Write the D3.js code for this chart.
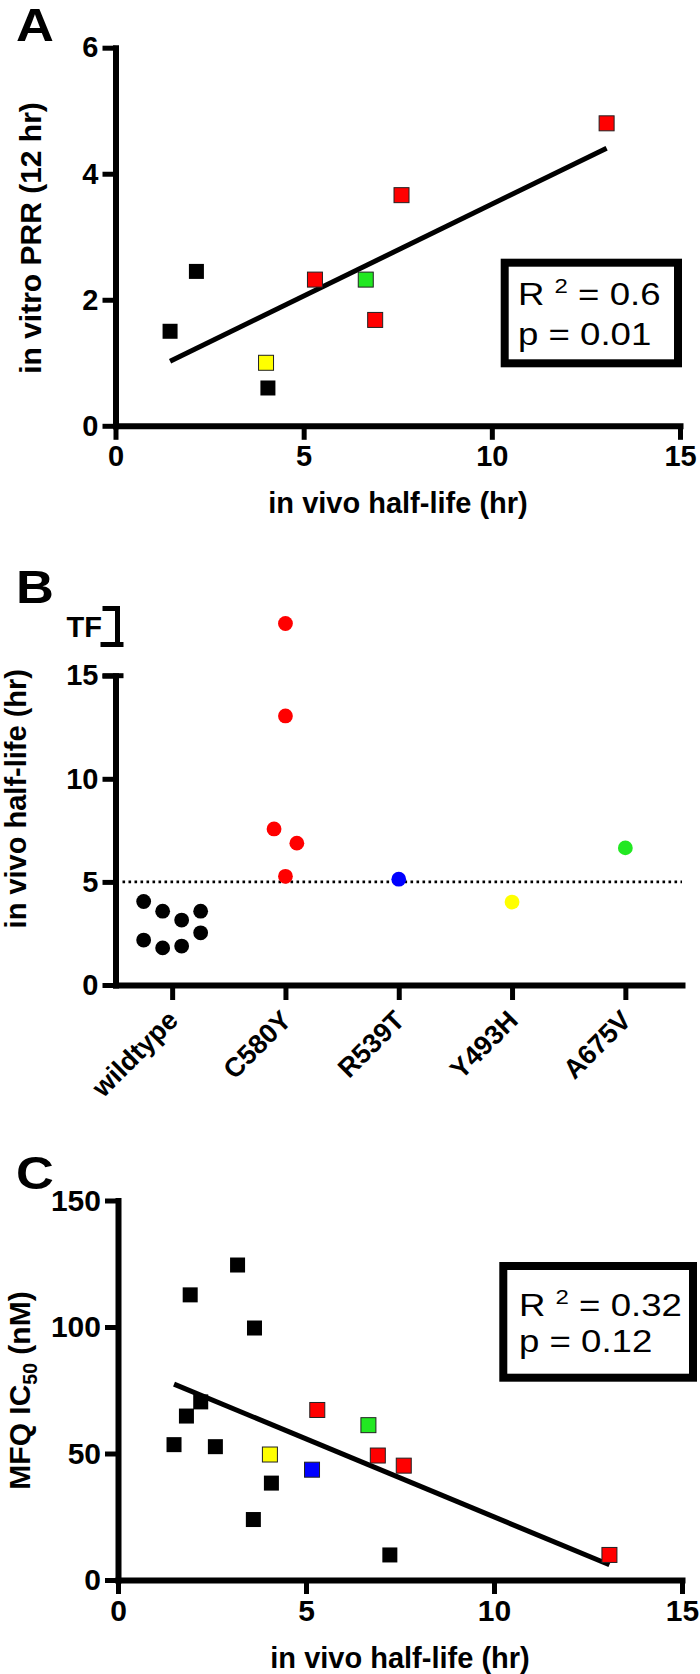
<!DOCTYPE html>
<html><head><meta charset="utf-8">
<script src="https://cdn.jsdelivr.net/npm/d3@7"></script>
<style>
html,body{margin:0;padding:0;background:#fff;}
svg{display:block;font-family:"Liberation Sans",Arial,Helvetica,sans-serif;}
</style></head><body>
<svg id="chart" width="700" height="1674"></svg>
<script>
// ---------- DATA ----------
// Panel A
const aHalfLife = [1.45, 2.15, 4.0, 4.05, 5.3, 6.65, 6.9, 7.6, 13.05];
const aPRR      = [1.5, 2.45, 1.0, 0.6, 2.32, 2.32, 1.68, 3.66, 4.8];
const aColor    = ["black","black","yellow","black","red","green","red","red","red"];
const aTicksX = [0, 5, 10, 15];
const aTicksY = [0, 2, 4, 6];
const aStats  = ["0.6", "0.01"];

// Panel B
const bCategories = ["wildtype","C580Y","R539T","Y493H","A675V"];
const bGroup  = ["wildtype","wildtype","wildtype","wildtype","wildtype","wildtype","wildtype","wildtype",
                 "C580Y","C580Y","C580Y","C580Y","C580Y","R539T","Y493H","A675V"];
const bValue  = [4.05, 3.58, 3.15, 3.58, 2.18, 1.80, 1.89, 2.53,
                 "TF", 13.05, 7.57, 6.88, 5.27, 5.13, 4.02, 6.65];
const bJitter = [-1.5, -0.5, 0.5, 1.5, -1.5, -0.5, 0.5, 1.5,
                 0, 0, -0.6, 0.6, 0, 0, 0, 0];
const bColor  = ["black","black","black","black","black","black","black","black",
                 "red","red","red","red","red","blue","yellow","green"];
const bTicksY = [0, 5, 10, 15];
const bThreshold = 5;

// Panel C
const cHalfLife = [1.49, 1.82, 1.92, 2.20, 2.59, 3.18, 3.63, 3.60, 4.08, 7.23,
                   4.04, 5.16, 5.30, 6.66, 6.91, 7.60, 13.07];
const cIC50     = [53.5, 64.8, 112.7, 70.4, 52.7, 124.5, 99.6, 23.9, 38.3, 9.9,
                   49.6, 43.6, 67.2, 61.2, 49.2, 45.2, 9.9];
const cColor    = ["black","black","black","black","black","black","black","black","black","black",
                   "yellow","blue","red","green","red","red","red"];
const cTicksX = [0, 5, 10, 15];
const cTicksY = [0, 50, 100, 150];
const cStats  = ["0.32", "0.12"];

const palette = {black:"#000000", red:"#ff0000", green:"#22e822", yellow:"#ffff00", blue:"#0000ff"};

// ---------- DRAW ----------
const svg = d3.select("#chart");
svg.append("rect").attr("width",700).attr("height",1674).attr("fill","#fff");

function styleAxis(g, fs){
  g.select(".domain").attr("stroke","#000").attr("stroke-width",6).attr("stroke-linecap","square");
  g.selectAll(".tick line").attr("stroke","#000").attr("stroke-width",5);
  g.selectAll(".tick text").attr("fill","#000").attr("font-size",fs).attr("font-weight","bold")
    .attr("font-family",'"Liberation Sans",Arial,sans-serif');
}

function panelLetter(txt, x, y){
  svg.append("text").attr("transform",`translate(${x},${y}) scale(1.14,1)`)
    .attr("font-size",46).attr("font-weight","bold").text(txt);
}

function legend(box, tx, b1, b2, stats){
  svg.append("rect").attr("x",box[0]).attr("y",box[1]).attr("width",box[2]).attr("height",box[3])
    .attr("fill","#fff").attr("stroke","#000").attr("stroke-width",8);
  const t = svg.append("g").attr("transform",`translate(${tx},0) scale(1.2,1)`)
    .attr("font-size",30.5);
  const t1 = t.append("text").attr("x",0).attr("y",b1).style("white-space","pre");
  t1.append("tspan").text("R ");
  t1.append("tspan").attr("font-size",20).attr("dy",-12).text("2");
  t1.append("tspan").attr("dy",12).text(" = " + stats[0]);
  t.append("text").attr("x",0).attr("y",b2).style("white-space","pre").text("p = " + stats[1]);
}

function scatterPanel(cfg){
  const x = d3.scaleLinear().domain([0,15]).range(cfg.xRange);
  const y = d3.scaleLinear().domain(cfg.yDomain).range(cfg.yRange);
  const xs = cfg.xs, ys = cfg.ys;
  const mx = d3.mean(xs), my = d3.mean(ys);
  const sxy = d3.sum(xs, (v,i)=>(v-mx)*(ys[i]-my));
  const sxx = d3.sum(xs, v=>(v-mx)*(v-mx));
  const slope = sxy/sxx, icpt = my - slope*mx;
  const ext = d3.extent(xs);

  const ga = svg.append("g").attr("transform",`translate(0,${cfg.yRange[0]})`)
    .call(d3.axisBottom(x).tickValues(cfg.ticksX).tickFormat(d3.format("d"))
      .tickSize(14).tickSizeOuter(0).tickPadding(6));
  styleAxis(ga, cfg.xfs);
  const gl = svg.append("g").attr("transform",`translate(${cfg.xRange[0]},0)`)
    .call(d3.axisLeft(y).tickValues(cfg.ticksY).tickFormat(d3.format("d"))
      .tickSize(13).tickSizeOuter(0).tickPadding(4));
  styleAxis(gl, cfg.yfs);

  svg.append("path")
    .datum(ext)
    .attr("d", d3.line().x(d=>x(d)).y(d=>y(slope*d+icpt)))
    .attr("stroke","#000").attr("stroke-width",5).attr("fill","none");

  svg.append("g").selectAll("rect").data(xs.map((v,i)=>({x:v,y:ys[i],c:cfg.colors[i]})))
    .join("rect")
    .attr("x",d=>x(d.x)-7.5).attr("y",d=>y(d.y)-7.5)
    .attr("width",15).attr("height",15)
    .attr("fill",d=>palette[d.c])
    .attr("stroke",d=>d.c==="black"?"none":"#222").attr("stroke-width",1);
}

// ----- Panel A -----
panelLetter("A", 16, 41);
scatterPanel({xs:aHalfLife, ys:aPRR, colors:aColor, xRange:[115.5,680], yDomain:[0,6],
  yRange:[425.8,47.7], ticksX:aTicksX, ticksY:aTicksY, xfs:29, yfs:29});
legend([504.7,262.7,173.3,100.6], 518, 305, 345, aStats);
svg.append("text").attr("transform","translate(41,238) rotate(-90)").attr("text-anchor","middle")
  .attr("font-size",30).attr("font-weight","bold").text("in vitro PRR (12 hr)");
svg.append("text").attr("x",398).attr("y",513).attr("text-anchor","middle")
  .attr("font-size",29).attr("font-weight","bold").text("in vivo half-life (hr)");

// ----- Panel B -----
panelLetter("B", 16, 603);
{
  const xB = d3.scalePoint().domain(bCategories).range([115.5,682]).padding(0.5);
  const yB = d3.scaleLinear().domain([0,15]).range([985,675.7]);
  const yTF = d3.scalePoint().domain(["TF"]).range([645,608]).padding(0.5);
  const ax0 = 115.5;

  const ga = svg.append("g").attr("transform","translate(0,985)")
    .call(d3.axisBottom(xB).tickSize(15).tickSizeOuter(0));
  styleAxis(ga, 27);
  ga.selectAll(".tick text").attr("x",0).attr("y",0).attr("dy",0)
    .attr("text-anchor","end").attr("transform","translate(7,37) rotate(-45)");

  const gl = svg.append("g").attr("transform",`translate(${ax0},0)`)
    .call(d3.axisLeft(yB).tickValues(bTicksY).tickSize(13).tickSizeOuter(0).tickPadding(4));
  styleAxis(gl, 29);
  // cap at top of the broken axis
  svg.append("line").attr("x1",ax0-13).attr("x2",ax0+8).attr("y1",yB(15)).attr("y2",yB(15))
    .attr("stroke","#000").attr("stroke-width",5);
  // TF bracket
  svg.append("path")
    .attr("d",`M${ax0-13},${yTF.range()[1]+0.5}H${ax0+2}V${yTF.range()[0]-0.5}`)
    .attr("stroke","#000").attr("stroke-width",5).attr("fill","none");
  svg.append("line").attr("x1",ax0-15).attr("x2",ax0+8).attr("y1",yTF.range()[0]-0.5).attr("y2",yTF.range()[0]-0.5)
    .attr("stroke","#000").attr("stroke-width",5);
  svg.append("text").attr("x",102).attr("y",yTF("TF")+10).attr("text-anchor","end")
    .attr("font-size",29).attr("font-weight","bold").text("TF");

  // threshold dotted line
  svg.append("line").attr("x1",ax0+7).attr("x2",682).attr("y1",yB(bThreshold)).attr("y2",yB(bThreshold))
    .attr("stroke","#000").attr("stroke-width",2.6).attr("stroke-dasharray","2.6,3.4");

  svg.append("g").selectAll("circle")
    .data(bValue.map((v,i)=>({v, g:bGroup[i], j:bJitter[i], c:bColor[i]})))
    .join("circle")
    .attr("cx",d=>xB(d.g)+d.j*19)
    .attr("cy",d=>d.v==="TF"?yTF("TF")-3:yB(d.v))
    .attr("r",7.4)
    .attr("fill",d=>palette[d.c]);

  svg.append("text").attr("transform","translate(26,798.7) rotate(-90)").attr("text-anchor","middle")
    .attr("font-size",29).attr("font-weight","bold").text("in vivo half-life (hr)");
}

// ----- Panel C -----
panelLetter("C", 16, 1189);
scatterPanel({xs:cHalfLife, ys:cIC50, colors:cColor, xRange:[118,682], yDomain:[0,150],
  yRange:[1580,1200.5], ticksX:cTicksX, ticksY:cTicksY, xfs:30, yfs:30});
legend([503.3,1266,189.7,111.7], 519, 1315.7, 1351.7, cStats);
{
  const t = svg.append("text").attr("transform","translate(30,1390.5) rotate(-90)")
    .attr("text-anchor","middle").attr("font-size",30).attr("font-weight","bold").style("white-space","pre");
  t.append("tspan").text("MFQ IC");
  t.append("tspan").attr("font-size",19.5).attr("dy",7).text("50");
  t.append("tspan").attr("dy",-7).text(" (nM)");
}
svg.append("text").attr("x",400).attr("y",1668).attr("text-anchor","middle")
  .attr("font-size",29).attr("font-weight","bold").text("in vivo half-life (hr)");
</script>
</body></html>
